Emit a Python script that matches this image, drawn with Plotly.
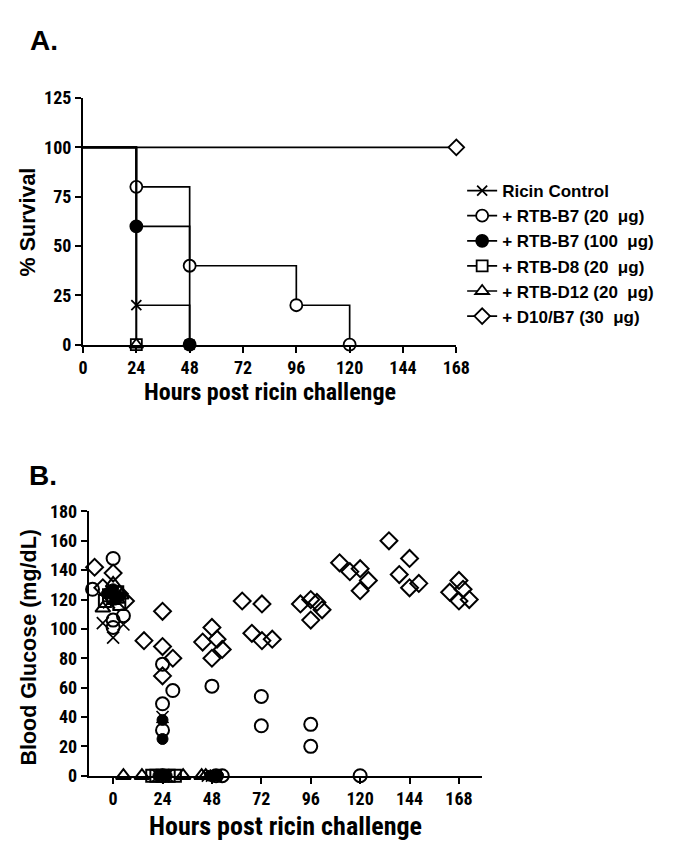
import plotly.graph_objects as go

# ---- Panel A: Kaplan-Meier survival (hours, % survival) ----
surv_names = ["Ricin Control", "+ RTB-B7 (20\u00a0 μg)", "+ RTB-B7 (100\u00a0 μg)",
              "+ RTB-D8 (20\u00a0 μg)", "+ RTB-D12 (20\u00a0 μg)", "+ D10/B7 (30\u00a0 μg)"]
surv_t_ricin = [0, 24, 48]
surv_s_ricin = [100, 20, 0]
surv_t_b7_20 = [0, 24, 48, 96, 120]
surv_s_b7_20 = [100, 80, 40, 20, 0]
surv_t_b7_100 = [0, 24, 48]
surv_s_b7_100 = [100, 60, 0]
surv_t_d8 = [0, 24]
surv_s_d8 = [100, 0]
surv_t_d12 = [0, 24]
surv_s_d12 = [100, 0]
surv_t_d10b7 = [0, 168]
surv_s_d10b7 = [100, 100]

# ---- Panel B: blood glucose (plotted hour position incl. jitter, mg/dL) ----
gl_x_ricin = [-5, 0, 5, -2, 2, 24, 22, 26, 24, 46, 48, 50]
gl_y_ricin = [104, 94, 103, 118, 124, 40, 0, 0, 0, 0, 0, 0]
gl_x_b7_20 = [-10, 0, 0, 5, 0, 24, 29, 24, 24, 24, 48, 50, 53, 72, 72, 96, 96, 120]
gl_y_b7_20 = [127, 148, 106, 109, 101, 76, 58, 49, 31, 0, 61, 0, 0, 54, 34, 35, 20, 0]
gl_x_b7_100 = [-3, 0, 3, 1, -1, 24, 24, 22, 26, 47, 49, 51]
gl_y_b7_100 = [124, 127, 122, 120, 126, 38, 25, 0, 0, 0, 0, 0]
gl_x_d8 = [3, -2, 0, 2, -4, 19, 21, 24, 27, 30]
gl_y_d8 = [117, 123, 121, 125, 119, 0, 0, 0, 0, 0]
gl_x_d12 = [-5, 0, -2, 2, 4, 5, 14, 34, 43, 45]
gl_y_d12 = [114, 131, 125, 120, 123, 0, 0, 0, 0, 0]
gl_x_d10b7 = [-9, 0, -5, 6, 3,
              15, 24, 24, 29, 24,
              43.5, 48, 50.5, 53, 48,
              62.7, 72.3, 67.4, 72.3, 77.3,
              91, 96, 99, 101.5, 96,
              110, 115, 120, 124, 120,
              134, 139, 144, 144, 148.5,
              163.5, 168, 170, 168, 173]
gl_y_d10b7 = [142, 138, 128, 119, 124,
              92, 112, 88, 80, 68,
              91, 101, 93, 86, 80,
              119, 117, 97, 92, 93,
              117, 120, 118, 113, 106,
              145, 139, 141, 133, 126,
              160, 137, 148, 128, 131,
              125, 133, 127, 119, 120]

hour_ticks = [0, 24, 48, 72, 96, 120, 144, 168]

NARROW = "Roboto Condensed, Liberation Sans, sans-serif"
WIDE = "Liberation Sans, Arial, sans-serif"

# symbol, size, filled?
styles = [("x-thin", 10, False), ("circle", 12, False), ("circle", 12, True),
          ("square", 11, False), ("triangle-up", 12, False), ("diamond", 12, False)]

surv = [(surv_t_ricin, surv_s_ricin), (surv_t_b7_20, surv_s_b7_20),
        (surv_t_b7_100, surv_s_b7_100), (surv_t_d8, surv_s_d8),
        (surv_t_d12, surv_s_d12), (surv_t_d10b7, surv_s_d10b7)]
gluc = [(gl_x_ricin, gl_y_ricin), (gl_x_b7_20, gl_y_b7_20),
        (gl_x_b7_100, gl_y_b7_100), (gl_x_d8, gl_y_d8),
        (gl_x_d12, gl_y_d12), (gl_x_d10b7, gl_y_d10b7)]

fig = go.Figure()

# survival step curves, markers at each drop
for (t, s), (sym, size, filled), name in zip(surv, styles, surv_names):
    fill = "black" if filled else "white"
    mk = dict(symbol=sym, size=size, color=fill, line=dict(color="black", width=1.8))
    if sym == "x-thin":
        mk = dict(symbol=sym, size=size, line=dict(color="black", width=1.8))
    fig.add_trace(go.Scatter(x=t, y=s, mode="lines", line=dict(color="black", width=1.7, shape="hv"),
                             showlegend=False, cliponaxis=False, xaxis="x", yaxis="y"))
    fig.add_trace(go.Scatter(x=t[1:], y=s[1:], mode="markers", marker=mk,
                             showlegend=False, cliponaxis=False, xaxis="x", yaxis="y"))
    fig.add_trace(go.Scatter(x=[None], y=[None], mode="lines+markers", name=name, marker=mk,
                             line=dict(color="black", width=1.7), xaxis="x", yaxis="y"))

# glucose scatter
for (gx, gy), (sym, size, filled) in zip(gluc, styles):
    if sym == "x-thin":
        mk = dict(symbol=sym, size=size + 2, line=dict(color="black", width=1.7))
    elif filled:
        mk = dict(symbol=sym, size=size - 1, color="black", line=dict(color="black", width=1))
    else:
        mk = dict(symbol=sym + "-open", size=size + 1, color="black", line=dict(color="black", width=2))
    fig.add_trace(go.Scatter(x=gx, y=gy, mode="markers", marker=mk, showlegend=False,
                             cliponaxis=False, xaxis="x2", yaxis="y2"))

axis_common = dict(showline=True, linecolor="black", linewidth=2, ticks="outside",
                   ticklen=6, tickwidth=2, tickcolor="black", showgrid=False, zeroline=False,
                   tickfont=dict(family=NARROW, size=18, color="black", weight="bold"))


def label(text, x, y, size, family, angle=0):
    return dict(text=text, x=x / 683, y=(845 - y) / 845, xref="paper", yref="paper",
                xanchor="center", yanchor="middle", textangle=angle, showarrow=False,
                font=dict(family=family, size=size, color="black", weight="bold"))


fig.update_layout(
    width=683, height=845,
    margin=dict(l=0, r=0, t=0, b=0),
    plot_bgcolor="white", paper_bgcolor="white",
    xaxis=dict(domain=[72 / 683, 456 / 683], range=[0, 168], tickvals=hour_ticks,
               anchor="y", **axis_common),
    yaxis=dict(domain=[(845 - 334) / 845, (845 - 81) / 845], range=[0, 125],
               tickvals=[0, 25, 50, 75, 100, 125], anchor="x", **axis_common),
    xaxis2=dict(domain=[78 / 683, 482 / 683], range=[-11.8, 179], tickvals=hour_ticks,
                anchor="y2", **axis_common),
    yaxis2=dict(domain=[(845 - 776) / 845, (845 - 505) / 845], range=[0, 180],
                tickvals=list(range(0, 181, 20)), anchor="x2", **axis_common),
    legend=dict(x=462 / 683, y=(845 - 158) / 845, xanchor="left", yanchor="top",
                font=dict(family=WIDE, size=17, color="black", weight="bold"),
                itemwidth=30, tracegroupgap=0, bgcolor="rgba(0,0,0,0)"),
    showlegend=True,
    annotations=[
        label("A.", 32, 22, 28, WIDE),
        label("B.", 31, 468, 28, WIDE),
        label("% Survival", 15, 208, 21.5, WIDE, -90),
        label("Hours post ricin challenge", 264, 383, 24, NARROW),
        label("Blood Glucose (mg/dL)", 16, 644, 21.5, WIDE, -90),
        label("Hours post ricin challenge", 280, 828, 26, NARROW),
    ],
)

fig.write_html("out.html")
